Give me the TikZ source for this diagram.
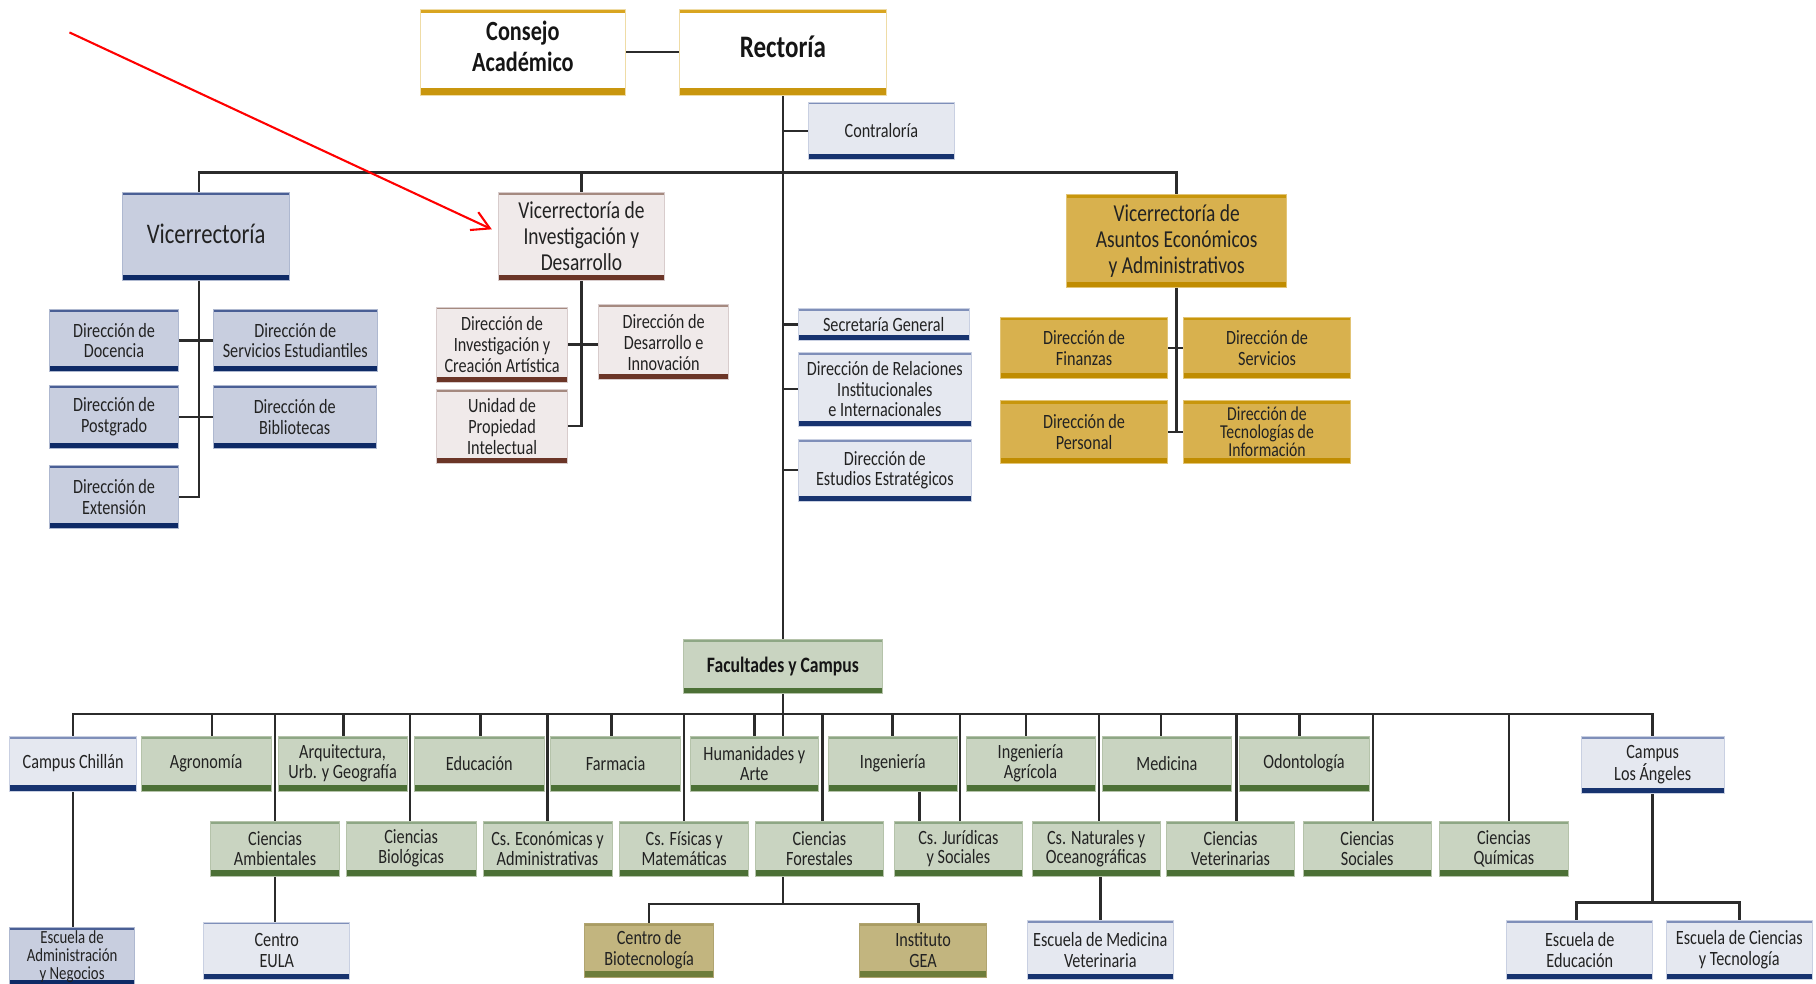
\documentclass[tikz,border=0pt]{standalone}
\usepackage{fontspec}
\setmainfont{Carlito}[FakeStretch=0.8]
\usetikzlibrary{arrows.meta}
\pgfdeclarelayer{back}
\pgfdeclarelayer{lines}
\pgfsetlayers{back,lines,main}

\definecolor{txt}{HTML}{222222}
\definecolor{txtb}{HTML}{151515}
\definecolor{lnk}{HTML}{2B2B2B}
% gold / white
\definecolor{gwTop}{HTML}{D9A520}\definecolor{gwBot}{HTML}{C9960E}\definecolor{gwEdge}{HTML}{EFDCA6}
% light blue
\definecolor{blFill}{HTML}{E5E8F0}\definecolor{blTop}{HTML}{7F8FB9}\definecolor{blBot}{HTML}{17336F}\definecolor{blEdge}{HTML}{C9D0E2}
% medium blue
\definecolor{bmFill}{HTML}{C8CEDF}\definecolor{bmTop}{HTML}{4A5F95}\definecolor{bmBot}{HTML}{0E2A66}\definecolor{bmEdge}{HTML}{AEB8D0}
% brown
\definecolor{brFill}{HTML}{F0EAEA}\definecolor{brTop}{HTML}{A58A80}\definecolor{brBot}{HTML}{6B3527}\definecolor{brEdge}{HTML}{D8CCCC}
% gold
\definecolor{gdFill}{HTML}{D8B14E}\definecolor{gdTop}{HTML}{C8960C}\definecolor{gdBot}{HTML}{C08C00}\definecolor{gdEdge}{HTML}{E2C476}
% green
\definecolor{gnFill}{HTML}{C9D4C1}\definecolor{gnTop}{HTML}{8EA785}\definecolor{gnBot}{HTML}{4C7036}\definecolor{gnEdge}{HTML}{B5C3AA}
% olive
\definecolor{olFill}{HTML}{C2B57F}\definecolor{olTop}{HTML}{A99C63}\definecolor{olBot}{HTML}{6E7D3B}\definecolor{olEdge}{HTML}{B0A470}

\newcommand\szSm{\fontsize{17.5}{18}\selectfont}
\newcommand\szRow{\fontsize{17.5}{17}\selectfont}
\newcommand\szCons{\fontsize{24}{27}\selectfont\bfseries}
\newcommand\szRect{\fontsize{27}{30}\selectfont\bfseries}
\newcommand\szVr{\fontsize{24.5}{26}\selectfont}
\newcommand\szMid{\fontsize{21}{22.5}\selectfont}
\newcommand\szFac{\fontsize{19}{20}\selectfont\bfseries}
\newcommand\szTi{\fontsize{17}{15.5}\selectfont}
\newcommand\szEsc{\fontsize{16}{15.8}\selectfont}

\newcommand\bx[7]{\node[#2, minimum width={(#5-#3)*1pt}, minimum height={(#6-#4)*1pt}] (#1) at ({(#3+#5)/2},{(#4+#6)/2}) {#7};}

\tikzset{
  boxBase/.style={rectangle, inner sep=0pt, align=center, text=txt, line width=0.7pt, font=\szSm},
  boxDeco/.style n args={4}{path picture={
     \fill[#1] (path picture bounding box.north west) rectangle ([yshift=-#3]path picture bounding box.north east);
     \fill[#2] ([yshift=#4]path picture bounding box.south west) rectangle (path picture bounding box.south east);}},
  boxGW/.style={boxBase, fill=white, draw=gwEdge, text=txtb, text depth=10pt, boxDeco={gwTop}{gwBot}{2.8pt}{6pt}},
  boxBL/.style={boxBase, fill=blFill, draw=blEdge, boxDeco={blTop}{blBot}{2.2pt}{4.8pt}},
  boxBM/.style={boxBase, fill=bmFill, draw=bmEdge, boxDeco={bmTop}{bmBot}{2.2pt}{4.8pt}},
  boxBR/.style={boxBase, fill=brFill, draw=brEdge, boxDeco={brTop}{brBot}{2.2pt}{4.8pt}},
  boxGD/.style={boxBase, fill=gdFill, draw=gdEdge, boxDeco={gdTop}{gdBot}{2.6pt}{4.8pt}},
  boxGN/.style={boxBase, fill=gnFill, draw=gnEdge, font=\szRow, boxDeco={gnTop}{gnBot}{2.2pt}{4.8pt}},
  boxOL/.style={boxBase, fill=olFill, draw=olEdge, boxDeco={olTop}{olBot}{2.2pt}{4.8pt}},
  link/.style={draw=lnk, line width=2.2pt},
  redarrow/.style={draw=red, line width=1.8pt, -{Straight Barb[length=15pt,width=17pt,line width=1.8pt]}}
}

\begin{document}
\begin{tikzpicture}[x=1pt,y=-1pt]
\useasboundingbox (0,0) rectangle (1568,849);
\begin{pgfonlayer}{back}
\fill[white] (0,0) rectangle (1568,849);
\end{pgfonlayer}

% ---------- top ----------
\bx{cons}{boxGW, font=\szCons}{363}{8}{540}{82}{Consejo\\Académico}
\bx{rect}{boxGW, font=\szRect}{587}{8}{765}{82}{Rectoría}
\bx{contr}{boxBL}{698}{88}{824}{138}{Contraloría}

% ---------- vicerrectorias ----------
\bx{vr}{boxBM, font=\szVr, text depth=5pt}{106}{166}{250}{242}{Vicerrectoría}
\bx{vrid}{boxBR, font=\szMid}{430}{166}{574}{242}{Vicerrectoría de\\Investigación y\\Desarrollo}
\bx{vrae}{boxGD, font=\szMid}{921}{168}{1111}{248}{Vicerrectoría de\\Asuntos Económicos\\y Administrativos}

\bx{doc}{boxBM}{43}{267}{154}{321}{Dirección de\\Docencia}
\bx{sest}{boxBM}{184}{267}{326}{321}{Dirección de\\Servicios Estudiantiles}
\bx{post}{boxBM}{43}{333}{154}{387}{Dirección de\\Postgrado}
\bx{bib}{boxBM}{184}{333}{325}{387}{Dirección de\\Bibliotecas}
\bx{ext}{boxBM}{43}{402}{154}{456}{Dirección de\\Extensión}

\bx{dica}{boxBR}{377}{265}{490}{330}{Dirección de\\Investigación y\\Creación Artística}
\bx{ddi}{boxBR}{517}{263}{629}{328}{Dirección de\\Desarrollo e\\Innovación}
\bx{upi}{boxBR}{377}{336}{490}{400}{Unidad de\\Propiedad\\Intelectual}

\bx{sec}{boxBL}{689}{266}{837}{294}{Secretaría General}
\bx{rel}{boxBL}{689}{304}{839}{368}{Dirección de Relaciones\\Institucionales\\e Internacionales}
\bx{est}{boxBL}{689}{379}{839}{433}{Dirección de\\Estudios Estratégicos}

\bx{fin}{boxGD}{864}{274}{1008}{327}{Dirección de\\Finanzas}
\bx{ser}{boxGD}{1022}{274}{1166}{327}{Dirección de\\Servicios}
\bx{per}{boxGD}{864}{346}{1008}{400}{Dirección de\\Personal}
\bx{ti}{boxGD, font=\szTi}{1022}{346}{1166}{400}{Dirección de\\Tecnologías de\\Información}

% ---------- facultades ----------
\bx{fac}{boxGN, font=\szFac, text=txtb}{590}{552}{762}{599}{Facultades y Campus}

\bx{chil}{boxBL, font=\szRow}{8.5}{635.5}{117.8}{683}{Campus Chillán}
\bx{agro}{boxGN}{122}{635.5}{234}{683}{Agronomía}
\bx{arq}{boxGN}{240}{635.5}{351.6}{683}{Arquitectura,\\Urb. y Geografía}
\bx{edu}{boxGN}{358}{635.5}{469.7}{683}{Educación}
\bx{farm}{boxGN}{475.6}{635.5}{587.4}{683}{Farmacia}
\bx{hum}{boxGN}{595.7}{635.5}{706.9}{683}{Humanidades y\\Arte}
\bx{ing}{boxGN}{715.3}{635.5}{826.3}{683}{Ingeniería}
\bx{inga}{boxGN}{834}{635.5}{945.5}{683}{Ingeniería\\Agrícola}
\bx{med}{boxGN}{952}{635.5}{1063.2}{683}{Medicina}
\bx{odo}{boxGN}{1070}{635.5}{1182}{683}{Odontología}
\bx{la}{boxBL, font=\szRow}{1365}{635.5}{1489}{685}{Campus\\Los Ángeles}

\bx{amb}{boxGN}{182}{709}{293}{756.4}{Ciencias\\Ambientales}
\bx{bio}{boxGN}{299}{709}{411}{756.4}{Ciencias\\Biológicas}
\bx{eco}{boxGN}{417}{709}{528.5}{756.4}{Cs. Económicas y\\Administrativas}
\bx{fis}{boxGN}{535}{709}{646.5}{756.4}{Cs. Físicas y\\Matemáticas}
\bx{forestal}{boxGN}{652}{709}{763}{756.4}{Ciencias\\Forestales}
\bx{jur}{boxGN}{772}{709}{883}{756.4}{Cs. Jurídicas\\y Sociales}
\bx{nat}{boxGN}{891}{709}{1002}{756.4}{Cs. Naturales y\\Oceanográficas}
\bx{vet}{boxGN}{1007}{709}{1118}{756.4}{Ciencias\\Veterinarias}
\bx{soc}{boxGN}{1125}{709}{1236}{756.4}{Ciencias\\Sociales}
\bx{qui}{boxGN}{1243}{709}{1354}{756.4}{Ciencias\\Químicas}

\bx{eadm}{boxBM, font=\szEsc}{8.5}{801}{116}{851}{Escuela de\\Administración\\y Negocios}
\bx{eula}{boxBL}{176}{796}{302}{846}{Centro\\EULA}
\bx{cbio}{boxOL}{505}{797}{616}{843.5}{Centro de\\Biotecnología}
\bx{gea}{boxOL}{742}{797}{852}{843.5}{Instituto\\GEA}
\bx{emv}{boxBL}{887}{795}{1013}{845.5}{Escuela de Medicina\\Veterinaria}
\bx{eedu}{boxBL}{1301}{795}{1427}{845.5}{Escuela de\\Educación}
\bx{ect}{boxBL}{1439}{795}{1564.5}{845.5}{Escuela de Ciencias\\y Tecnología}

% ---------- connectors ----------
\coordinate (vl) at (172,0);
\coordinate (vb) at (676,149);
\coordinate (fbus) at (676,616.5);
\coordinate (fj) at (676,780.6);
\coordinate (lj) at (1427,779.4);
\coordinate (ijx) at (794,0);
\coordinate (arrs) at (60,28);

\begin{pgfonlayer}{lines}
\draw[link] (cons.east) -- (rect.west);
\draw[link] (rect.south) -- (fac.north);
\draw[link] (contr.west -| rect.south) -- (contr.west);
\draw[link] (vl |- vr.north) |- (vb) -| (vrae.north);
\draw[link] (vrid.north) -- (vrid.north |- vb);
\draw[link] (vl |- vr.south) |- (ext.east);
\draw[link] (doc.east) -- (sest.west);
\draw[link] (post.east) -- (bib.west);
\draw[link] (vrid.south) |- (upi.east);
\draw[link] (dica.east) -- (dica.east -| ddi.west);
\draw[link] (sec.west -| rect.south) -- (sec.west);
\draw[link] (rel.west -| rect.south) -- (rel.west);
\draw[link] (est.west -| rect.south) -- (est.west);
\draw[link] (vrae.south) |- (per.east);
\draw[link] (fin.east) -- (ser.west);
\draw[link] (per.east) -- (ti.west);

\draw[link] (fac.south) -- (fac.south |- hum.north);
\draw[link] (chil.north) |- (fbus) -| (la.north);
% first-row faculties (small offsets as in the original)
\foreach \n/\d in {agro/5,arq/1,edu/1,farm/-3.5,hum/0,ing/0,inga/-4,med/-5,odo/-4}
  \draw[link] ([xshift=\d pt]\n.north) -- ([xshift=\d pt]\n.north |- fbus);
% second-row faculties (connectors run through the gaps of the first row)
\foreach \n/\d in {amb/-0.2,bio/-1,eco/0,fis/0,forestal/2.5,jur/1.5,nat/2.5,vet/5,soc/5,qui/4.5}
  \draw[link] ([xshift=\d pt]\n.north) -- ([xshift=\d pt]\n.north |- fbus);
\draw[link] (ijx |- ing.south) -- (ijx |- jur.north);
\draw[link] (chil.south) -- (chil.south |- eadm.north);
\draw[link] (amb.south) -- (amb.south |- eula.north);
\draw[link] (forestal.south -| fac.south) -- (fj);
\draw[link] (cbio.north) |- (fj) -| ([xshift=-4pt]gea.north);
\draw[link] (emv.north |- nat.south) -- (emv.north);
\draw[link] (la.south) -- (lj);
\draw[link] ([xshift=-3pt]eedu.north) |- (lj) -| (ect.north);
\end{pgfonlayer}

\draw[redarrow] (arrs) -- ([shift={(-5pt,6pt)}]vrid.west);
\end{tikzpicture}
\end{document}
